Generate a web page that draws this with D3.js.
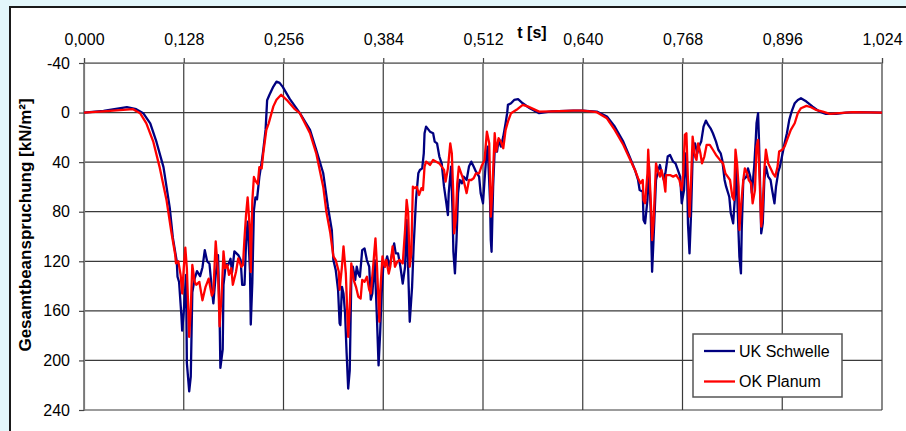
<!DOCTYPE html>
<html>
<head>
<meta charset="utf-8">
<script src="https://cdn.jsdelivr.net/npm/d3@7"></script>
<style>
    html, body { margin: 0; padding: 0; background: #e3f7fb; }
    #chart { width: 906px; height: 431px; }
    text { font-family: "Liberation Sans", Arial, sans-serif; }
</style>
</head>
<body>
<div id="chart"></div>
<script>
// Achsen
const xTicks = [0, 0.128, 0.256, 0.384, 0.512, 0.640, 0.768, 0.896, 1.024];
const yTicks = [-40, 0, 40, 80, 120, 160, 200, 240];
const seriesNames = ["UK Schwelle", "OK Planum"];

// UK Schwelle: Zeit [s] und Gesamtbeanspruchung [kN/m²]
const timeSchwelle = [
    0, 0.025, 0.055, 0.067, 0.076, 0.085, 0.093, 0.102, 0.110, 0.114, 0.119, 0.120, 0.122, 0.125, 0.126, 0.128,
    0.131, 0.132, 0.135, 0.137, 0.139, 0.142, 0.145, 0.149, 0.152, 0.155, 0.158, 0.161, 0.164, 0.166, 0.169, 0.172,
    0.174, 0.175, 0.178, 0.179, 0.182, 0.185, 0.188, 0.190, 0.193, 0.198, 0.201, 0.203, 0.206, 0.208, 0.210, 0.213,
    0.214, 0.216, 0.218, 0.220, 0.222, 0.225, 0.228, 0.230, 0.233, 0.235, 0.238, 0.243, 0.247, 0.251, 0.255, 0.264,
    0.277, 0.290, 0.298, 0.307, 0.313, 0.318, 0.320, 0.323, 0.326, 0.328, 0.329, 0.331, 0.333, 0.335, 0.337, 0.339,
    0.341, 0.343, 0.345, 0.348, 0.350, 0.352, 0.354, 0.357, 0.360, 0.363, 0.366, 0.368, 0.370, 0.373, 0.376, 0.378,
    0.380, 0.382, 0.384, 0.386, 0.389, 0.392, 0.395, 0.398, 0.400, 0.403, 0.406, 0.409, 0.412, 0.414, 0.416, 0.418,
    0.421, 0.423, 0.426, 0.429, 0.431, 0.434, 0.436, 0.437, 0.439, 0.444, 0.448, 0.450, 0.453, 0.456, 0.459, 0.462,
    0.465, 0.467, 0.468, 0.471, 0.473, 0.474, 0.476, 0.478, 0.480, 0.482, 0.485, 0.487, 0.491, 0.494, 0.497, 0.500,
    0.503, 0.507, 0.509, 0.512, 0.514, 0.516, 0.518, 0.521, 0.522, 0.523, 0.525, 0.527, 0.530, 0.532, 0.535, 0.538,
    0.541, 0.543, 0.544, 0.548, 0.552, 0.557, 0.563, 0.572, 0.584, 0.600, 0.628, 0.640, 0.658, 0.671, 0.681, 0.692,
    0.700, 0.707, 0.711, 0.713, 0.717, 0.718, 0.720, 0.723, 0.725, 0.727, 0.729, 0.731, 0.734, 0.737, 0.739, 0.741,
    0.744, 0.746, 0.749, 0.752, 0.756, 0.759, 0.762, 0.765, 0.767, 0.770, 0.772, 0.774, 0.775, 0.777, 0.779, 0.781,
    0.784, 0.787, 0.789, 0.792, 0.795, 0.798, 0.801, 0.804, 0.807, 0.811, 0.814, 0.817, 0.819, 0.822, 0.824, 0.828,
    0.830, 0.833, 0.835, 0.837, 0.839, 0.841, 0.843, 0.844, 0.846, 0.850, 0.852, 0.855, 0.857, 0.860, 0.862, 0.863,
    0.865, 0.866, 0.868, 0.869, 0.871, 0.873, 0.875, 0.878, 0.881, 0.883, 0.886, 0.888, 0.891, 0.893, 0.896, 0.899,
    0.902, 0.905, 0.908, 0.912, 0.916, 0.920, 0.927, 0.935, 0.944, 0.952, 0.965, 0.978, 0.995, 1.024
];
const valSchwelle = [
    0, -1.4, -4.4, -2.7, 0.5, 8.7, 23.7, 44, 76.7, 101, 120, 132.5, 136.7, 164, 176, 161,
    131, 202, 225, 213, 145, 134, 128, 132, 125, 111, 120, 122, 142, 154, 131, 115,
    164, 206, 191, 139, 122, 123, 118, 129, 112, 115, 119, 139, 139, 104, 88, 128,
    171, 137, 79, 68.5, 70, 52, 40, 30.5, 14, -10, -14.4, -21, -25, -24, -20.7, -11,
    0.5, 14, 30, 49, 76, 95, 119, 127, 143, 170, 171.5, 140.6, 146, 162, 194, 222.7,
    208, 135, 124.4, 135, 124.4, 130, 132.5, 111, 109.6, 119, 124.4, 151, 146, 119, 167.5, 204,
    178, 146, 124.4, 124.4, 116, 124.4, 115, 105.6, 113.6, 113.6, 124.4, 138, 124.4, 86.7, 127, 168.8,
    140.6, 108, 70.5, 49, 46.3, 45, 32.9, 16.7, 11.3, 15.4, 16.7, 23.4, 24.8, 35.5, 41, 59.8,
    73.2, 82.7, 65, 43.6, 81.3, 112.3, 129.8, 102.9, 65, 54.4, 57, 51.7, 54.4, 43.6, 39.6, 43.6,
    47.7, 51.7, 65, 73.2, 54.4, 36.9, 27.5, 70.5, 102.9, 112.3, 59.8, 30, 31.5, 22, 27.5, 19.4,
    8.6, 0.5, -6.2, -7.5, -10.2, -10.8, -7.5, -3.5, 0.5, -1, -1.6, -1.6, -0.8, 3.2, 11.3, 23.4,
    35.5, 46.3, 54.4, 62.5, 63.8, 86.7, 89.4, 70.5, 43.6, 76, 128.5, 100, 54.4, 46.3, 42.3, 47.7,
    54.4, 49, 35.5, 34.2, 39.6, 41, 46.3, 51.7, 73.2, 62.5, 32.9, 54.4, 89.4, 113.6, 81.3, 35.5,
    24.8, 32.9, 27.5, 23.4, 11.3, 6.5, 10, 12.7, 16.7, 23.4, 30, 32.9, 38.2, 54.4, 59.8, 67.9,
    81.3, 89.4, 70.5, 41, 81.3, 116.3, 129.8, 94.8, 54.4, 51.7, 45, 51.7, 65, 43.6, 22, 8.6,
    0.5, 19.4, 67.9, 97.5, 89.4, 54.4, 43.6, 51.7, 54.4, 62.5, 73.2, 59.8, 47.7, 43.6, 34.2, 24.8,
    16.7, 5.9, -0.8, -7.5, -10.2, -11.6, -8.9, -4.8, -0.8, 1.1, 1.1, 0, -0.3, 0
];

// OK Planum
const timePlanum = [
    0, 0.025, 0.063, 0.072, 0.080, 0.089, 0.097, 0.106, 0.112, 0.117, 0.118, 0.121, 0.124, 0.126, 0.128, 0.130,
    0.132, 0.135, 0.137, 0.139, 0.142, 0.144, 0.148, 0.152, 0.156, 0.160, 0.164, 0.166, 0.169, 0.172, 0.174, 0.177,
    0.179, 0.181, 0.184, 0.186, 0.189, 0.191, 0.195, 0.198, 0.202, 0.204, 0.206, 0.208, 0.210, 0.213, 0.214, 0.216,
    0.218, 0.220, 0.223, 0.225, 0.228, 0.230, 0.234, 0.237, 0.243, 0.247, 0.253, 0.260, 0.270, 0.277, 0.290, 0.298,
    0.307, 0.311, 0.316, 0.320, 0.323, 0.327, 0.328, 0.331, 0.333, 0.336, 0.339, 0.341, 0.343, 0.346, 0.349, 0.352,
    0.355, 0.357, 0.360, 0.363, 0.366, 0.368, 0.371, 0.374, 0.376, 0.379, 0.380, 0.383, 0.386, 0.388, 0.391, 0.393,
    0.396, 0.399, 0.402, 0.405, 0.409, 0.412, 0.414, 0.416, 0.418, 0.420, 0.422, 0.424, 0.427, 0.430, 0.433, 0.435,
    0.437, 0.439, 0.444, 0.448, 0.452, 0.456, 0.459, 0.462, 0.464, 0.467, 0.470, 0.472, 0.474, 0.475, 0.477, 0.479,
    0.481, 0.484, 0.487, 0.491, 0.494, 0.497, 0.500, 0.503, 0.507, 0.510, 0.514, 0.517, 0.520, 0.522, 0.524, 0.527,
    0.529, 0.532, 0.535, 0.538, 0.541, 0.544, 0.548, 0.555, 0.563, 0.570, 0.584, 0.600, 0.628, 0.640, 0.658, 0.671,
    0.681, 0.692, 0.700, 0.707, 0.711, 0.714, 0.717, 0.718, 0.720, 0.723, 0.724, 0.726, 0.728, 0.729, 0.731, 0.734,
    0.736, 0.739, 0.741, 0.744, 0.746, 0.747, 0.752, 0.756, 0.760, 0.764, 0.767, 0.769, 0.771, 0.773, 0.775, 0.777,
    0.779, 0.781, 0.784, 0.786, 0.788, 0.791, 0.793, 0.796, 0.799, 0.803, 0.807, 0.811, 0.816, 0.820, 0.823, 0.826,
    0.829, 0.832, 0.834, 0.836, 0.838, 0.840, 0.841, 0.843, 0.846, 0.848, 0.851, 0.853, 0.856, 0.858, 0.861, 0.863,
    0.865, 0.867, 0.869, 0.870, 0.873, 0.875, 0.878, 0.881, 0.884, 0.887, 0.890, 0.892, 0.896, 0.899, 0.903, 0.907,
    0.912, 0.916, 0.920, 0.927, 0.933, 0.939, 0.948, 0.957, 0.969, 0.986, 1.024
];
const valPlanum = [
    0, -1, -2.7, 0.5, 8.7, 23.7, 44, 71, 96, 114.5, 121.6, 120, 131, 146, 125.6, 109,
    125.6, 181, 158, 123, 136.6, 139, 136.6, 151.5, 140.6, 134, 147.7, 145, 104, 128.7, 172.5, 142,
    112, 125.6, 123, 131, 125.6, 139, 128.7, 117.6, 124.5, 123, 101, 82, 68.5, 96, 128.7, 71.3,
    52, 55, 57.6, 44, 45, 33, 14, 8.7, -5, -10.3, -14.4, -10.3, -3, 0.5, 16.7, 32.9,
    60, 80, 97, 116, 119, 128.5, 143, 124.4, 108, 130, 181, 156.7, 121.7, 135, 140.6, 148.6,
    150, 135, 136.5, 132.5, 143, 146, 124.4, 101.5, 124.4, 168.8, 146, 116, 124.4, 119, 130, 124.4,
    108, 124.4, 120.4, 119, 121.7, 94.8, 70.5, 81.3, 124.4, 113.6, 59.8, 61, 59.8, 66.5, 61, 62.5,
    43.6, 39.6, 42.3, 38.2, 39.6, 41, 43.6, 46.3, 55.7, 45, 24.8, 32.9, 67.9, 97.5, 86.7, 57,
    43.6, 49, 54.4, 65, 54.4, 54.4, 53, 49, 49, 43.6, 38.2, 15.4, 24.8, 84, 62.5, 16.7,
    31.5, 20.7, 23.4, 28.8, 14, 7.3, 0.5, -2.2, -6.2, -4.8, -0.8, -1, -1.6, -1.6, -0.3, 4.6,
    14, 26, 36.9, 46.3, 53, 57, 54.4, 70.5, 73.2, 49, 30, 54.4, 81.3, 103, 86.7, 41,
    46.3, 51.7, 46.3, 54.4, 63.8, 50.4, 50.4, 51.7, 50.4, 54.4, 62.5, 49, 18, 16.7, 54.4, 84,
    54.4, 19.4, 35.5, 38.2, 24.8, 32.9, 41, 35.5, 26, 26, 30, 34.2, 38.2, 41, 49, 51.7,
    54.4, 67.9, 70.5, 30, 41, 59.8, 94.8, 76, 54.4, 45, 49, 54.4, 57, 73.2, 62.5, 27.5,
    22, 54.4, 92, 86.7, 46.3, 30, 41, 45, 49, 51.7, 43.6, 31.5, 30, 27.5, 20.7, 14,
    8.6, 0.5, -3.5, -5.4, -4.3, -2.2, -0.8, 1.1, 0.5, -0.3, 0
];

class LoadChart {
    constructor(parentElement) {
        this.parentElement = parentElement;
        this.series = [
            { name: seriesNames[0], color: "#000080", values: timeSchwelle.map((t, i) => ({ t: t, v: valSchwelle[i] })) },
            { name: seriesNames[1], color: "#ff0000", values: timePlanum.map((t, i) => ({ t: t, v: valPlanum[i] })) }
        ];
        this.initVis();
    }

    initVis() {
        let vis = this;

        vis.margin = { top: 63, right: 24, bottom: 21, left: 84 };
        vis.width = 906 - vis.margin.left - vis.margin.right;
        vis.height = 431 - vis.margin.top - vis.margin.bottom;

        vis.root = d3.select(`#${vis.parentElement}`).append("svg")
            .attr("width", 906)
            .attr("height", 431);

        // Hintergrund + weisse Diagrammflaeche
        vis.root.append("rect")
            .attr("width", 906).attr("height", 431)
            .attr("fill", "#e3f7fb");
        vis.root.append("rect")
            .attr("x", 10).attr("y", 7)
            .attr("width", 910).attr("height", 440)
            .attr("fill", "#fff")
            .attr("stroke", "#1a1a1a")
            .attr("stroke-width", 2);

        vis.svg = vis.root.append("g")
            .attr("transform", `translate(${vis.margin.left},${vis.margin.top})`);

        vis.x = d3.scaleLinear().domain([0, 1.024]).range([0, vis.width]);
        vis.y = d3.scaleLinear().domain([-40, 240]).range([0, vis.height]);

        // Gitterlinien
        vis.svg.append("g").selectAll("line.vgrid")
            .data(xTicks).enter().append("line")
            .attr("x1", d => vis.x(d)).attr("x2", d => vis.x(d))
            .attr("y1", 0).attr("y2", vis.height)
            .attr("stroke", "#3a3a3a").attr("stroke-width", 1.2);
        vis.svg.append("g").selectAll("line.hgrid")
            .data(yTicks).enter().append("line")
            .attr("x1", 0).attr("x2", vis.width)
            .attr("y1", d => vis.y(d)).attr("y2", d => vis.y(d))
            .attr("stroke", "#3a3a3a").attr("stroke-width", 1.2);

        const fmt = d3.formatLocale({ decimal: ",", thousands: ".", grouping: [3], currency: ["", "€"], minus: "-" }).format(".3f");

        vis.xAxisGroup = vis.svg.append("g")
            .call(d3.axisTop(vis.x).tickValues(xTicks).tickFormat(fmt).tickSize(5).tickPadding(13));
        vis.yAxisGroup = vis.svg.append("g")
            .call(d3.axisLeft(vis.y).tickValues(yTicks).tickFormat(d => String(d)).tickSize(5).tickPadding(9));

        [vis.xAxisGroup, vis.yAxisGroup].forEach(g => {
            g.select(".domain").attr("stroke", "#777").attr("stroke-width", 1.2);
            g.selectAll(".tick line").attr("stroke", "#444").attr("stroke-width", 1.2);
            g.selectAll(".tick text")
                .attr("fill", "#000")
                .style("font-family", '"Liberation Sans", Arial, sans-serif')
                .style("font-size", "16px");
        });

        // Achsentitel
        vis.svg.append("text")
            .attr("x", 532 - vis.margin.left)
            .attr("y", 38 - vis.margin.top)
            .attr("text-anchor", "middle")
            .style("font-size", "16px")
            .style("font-weight", "bold")
            .text("t [s]");

        vis.svg.append("text")
            .attr("transform", `translate(${31 - vis.margin.left},${225 - vis.margin.top}) rotate(-90)`)
            .attr("text-anchor", "middle")
            .style("font-size", "17px")
            .style("font-weight", "bold")
            .text("Gesamtbeanspruchung [kN/m²]");

        vis.updateVis();
    }

    updateVis() {
        let vis = this;

        const line = d3.line()
            .x(d => vis.x(d.t))
            .y(d => vis.y(d.v));

        vis.svg.selectAll(".series")
            .data(vis.series)
            .enter().append("path")
            .attr("class", "series")
            .attr("d", d => line(d.values))
            .attr("fill", "none")
            .attr("stroke", d => d.color)
            .attr("stroke-width", 2.3)
            .attr("stroke-linejoin", "round");

        // Legende
        const lg = vis.root.append("g").attr("transform", "translate(693,334)");
        lg.append("rect")
            .attr("width", 149).attr("height", 63)
            .attr("fill", "#fff")
            .attr("stroke", "#555")
            .attr("stroke-width", 1.5);

        const items = lg.selectAll(".legend-item")
            .data(vis.series)
            .enter().append("g")
            .attr("class", "legend-item")
            .attr("transform", (d, i) => `translate(0,${17 + i * 30.5})`);
        items.append("line")
            .attr("x1", 11).attr("x2", 42)
            .attr("stroke", d => d.color)
            .attr("stroke-width", 2.3);
        items.append("text")
            .attr("x", 46)
            .attr("dy", "0.35em")
            .style("font-size", "16px")
            .text(d => d.name);
    }
}

new LoadChart("chart");
</script>
</body>
</html>
